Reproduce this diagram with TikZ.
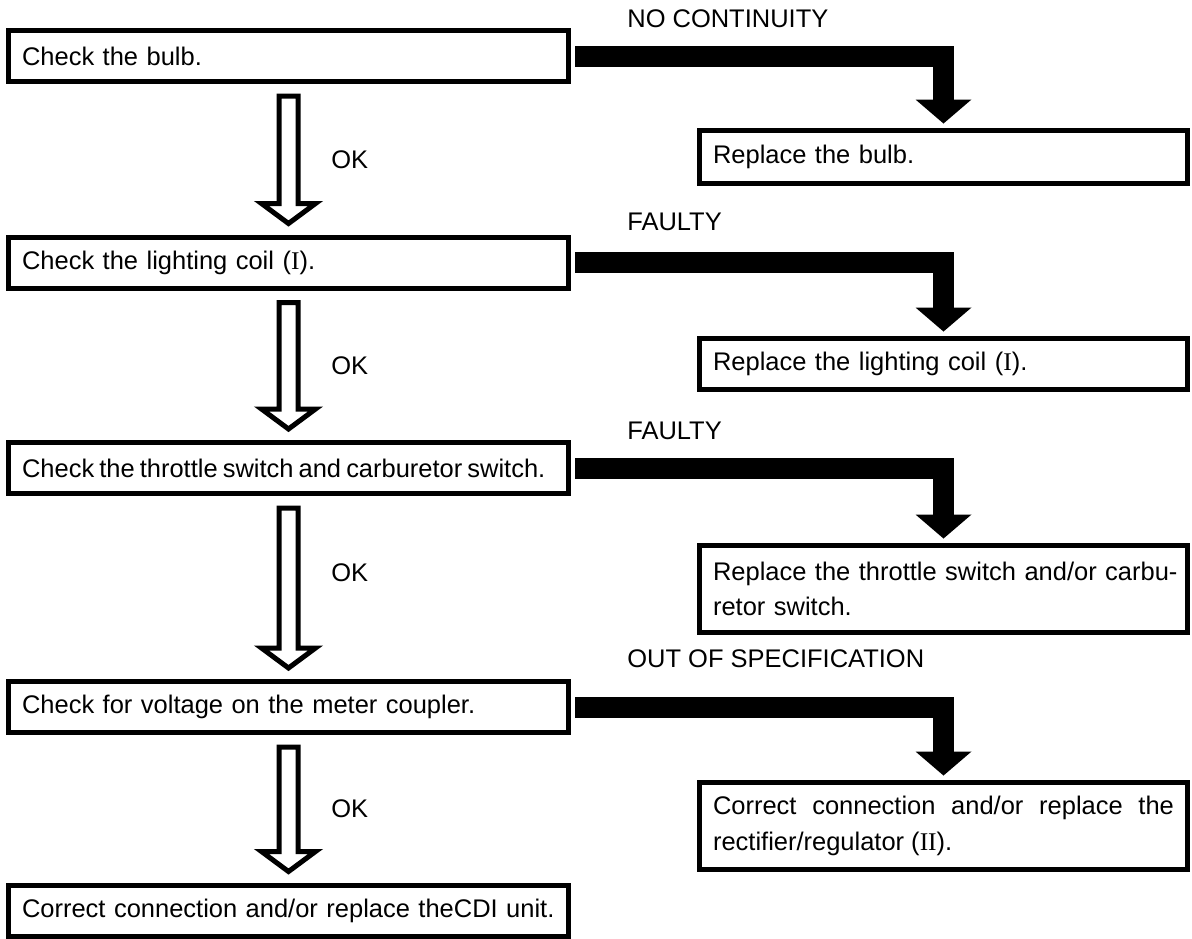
\documentclass[tikz,border=0pt]{standalone}
\usepackage{fontspec}
\setmainfont{Liberation Sans}
\newfontfamily\serifnum{Liberation Serif}
\usetikzlibrary{calc,arrows.meta}

\begin{document}
\begin{tikzpicture}[x=0.02cm,y=-0.02cm]
    \tikzset{check/.style = {draw, line width=0.1cm, minimum height=1.02cm, inner xsep=0.27cm, inner ysep=0pt,
        text width=10.66cm, align=left, font=\fontsize{14.5}{20.2}\selectfont}}
    \tikzset{fix/.style = {check, text width=9.22cm}}
    \tikzset{note/.style = {inner sep=0pt, font=\fontsize{14.5}{20.2}\selectfont}}
    \tikzset{okarrow/.style = {draw, fill=white, line width=0.1cm, line join=miter}}
    \tikzset{fault/.style = {-{Triangle[width=1.12cm,length=0.48cm,line width=0pt]}, line width=0.42cm,
        shorten <=0.09cm, shorten >=0.09cm}}
    \useasboundingbox (0,0) rectangle (1192,938);
    % checks
    \node[check] (b1) at (288.5,56) {Check the bulb.};
    \node[check] (b2) at (288.5,262.5) {Check the lighting coil ({\serifnum I}).};
    \node[check] (b3) at (288.5,468)
        {\mbox{\spaceskip=0.2em\relax Check the throttle switch and carburetor switch.}};
    \node[check] (b4) at (288.5,707) {Check for voltage on the meter coupler.};
    \node[check] (b5) at (288.5,910.5) {Correct connection and/or replace theCDI unit.};
    % repairs
    \node[fix, minimum height=1.06cm] (r1) at (943.5,157) {Replace the bulb.};
    \node[fix] (r2) at (943.5,364) {Replace the lighting coil ({\serifnum I}).};
    \node[fix, minimum height=1.74cm] (r3) at (943.5,589)
        {\mbox{Replace the throttle switch and/or carbu-}\\retor switch.};
    \node[fix, minimum height=1.74cm, align=justify] (r4) at (943.5,826)
        {Correct connection and/or replace the\linebreak rectifier/regulator ({\serifnum II}).};
    % fault labels
    \node[note, anchor=base west] (n1) at (627,27) {NO CONTINUITY};
    \node[note, anchor=base west] (n2) at (627,230) {FAULTY};
    \node[note, anchor=base west] (n3) at (627,439) {FAULTY};
    \node[note, anchor=base west] (n4) at (627,667) {OUT OF SPECIFICATION};
    % fault edges
    \draw[fault] (b1.east) -| (r1.north);
    \draw[fault] (b2.east) -| (r2.north);
    \draw[fault] (b3.east) -| (r3.north);
    \draw[fault] (b4.east) -| (r4.north);
    % ok edges
    \foreach \a/\b/\n/\dy in {b1/b2/1/0, b2/b3/2/0, b3/b4/3/-15, b4/b5/4/0}{
        \draw[okarrow] ($(\a.south)+(-9.5,12)$) -- ($(\a.south)+(9.5,12)$) -- ($(\b.north)+(9.5,-31)$)
            -- ($(\b.north)+(27,-31)$) -- ($(\b.north)+(0,-11)$) -- ($(\b.north)+(-27,-31)$)
            -- ($(\b.north)+(-9.5,-31)$) -- cycle;
        \node[note, anchor=west] (ok\n) at ($(\a.south)!0.5!(\b.north)+(42.5,\dy)$) {OK};
    }
\end{tikzpicture}
\end{document}
